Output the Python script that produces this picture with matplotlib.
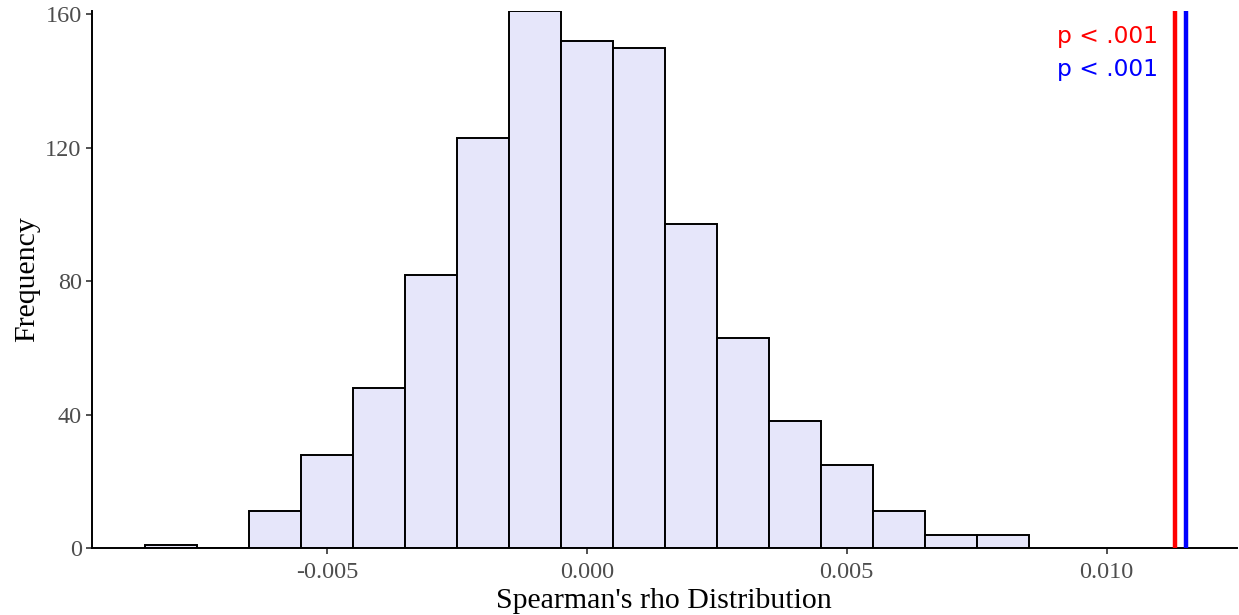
import numpy as np
import matplotlib.pyplot as plt

# Histogram of permuted Spearman's rho values (bin centres, width 0.001)
bin_centres = [-0.008, -0.007, -0.006, -0.005, -0.004, -0.003, -0.002, -0.001,
               0.000, 0.001, 0.002, 0.003, 0.004, 0.005, 0.006, 0.007, 0.008]
counts = [1, 0, 11, 28, 48, 82, 123, 161, 152, 150, 97, 63, 38, 25, 11, 4, 4]
bin_width = 0.001

# Observed values
observed_red = 0.01132
observed_blue = 0.01152
p_labels = ['p < .001', 'p < .001']

x_ticks = [-0.005, 0.000, 0.005, 0.010]
y_ticks = [0, 40, 80, 120, 160]

plt.rcParams['font.family'] = 'Liberation Serif'

fig = plt.figure(figsize=(12.39, 6.15), dpi=100)
ax = fig.add_axes([0.0743, 0.109, 0.9237, 0.873])

ax.bar(bin_centres, counts, width=bin_width, color='#E6E6FA',
       edgecolor='black', linewidth=1.4, zorder=2)

ax.axvline(observed_red, color='red', linewidth=3.2, zorder=3)
ax.axvline(observed_blue, color='blue', linewidth=3.2, zorder=3)

ax.text(0.01098, 153.4, p_labels[0], color='red', fontsize=16.8,
        family='DejaVu Sans', ha='right', va='center')
ax.text(0.01098, 143.5, p_labels[1], color='blue', fontsize=16.8,
        family='DejaVu Sans', ha='right', va='center')

ax.set_xlim(-0.00952, 0.0125)
ax.set_ylim(0, max(counts))
ax.set_xticks(x_ticks)
ax.set_xticklabels([f'{t:.3f}' for t in x_ticks])
ax.set_yticks(y_ticks)

for side in ['top', 'right']:
    ax.spines[side].set_visible(False)
for side in ['left', 'bottom']:
    ax.spines[side].set_linewidth(1.4)
    ax.spines[side].set_color('black')

ax.tick_params(axis='both', colors='#333333', labelcolor='#4D4D4D',
               labelsize=17.5, length=4, width=1.2)
ax.tick_params(axis='x', pad=6)

ax.set_xlabel("Spearman's rho Distribution", fontsize=21.5, labelpad=4)
ax.set_ylabel('Frequency', fontsize=21.5, labelpad=4)

fig.savefig('out.png', dpi=100)
